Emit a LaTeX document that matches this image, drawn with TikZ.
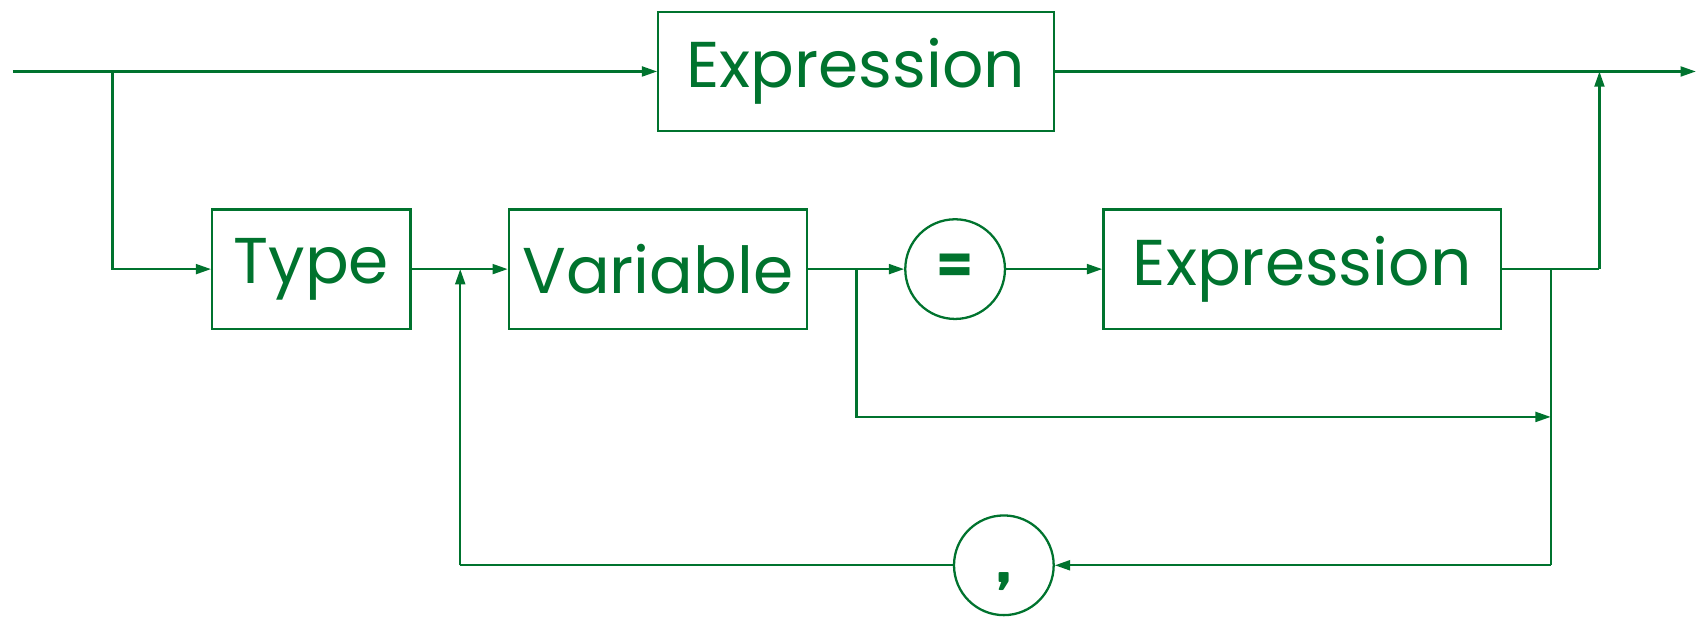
\documentclass[tikz,border=0pt]{standalone}
\usepackage{fontspec}
\setmainfont{Poppins}
\usetikzlibrary{arrows.meta}
\definecolor{syngreen}{RGB}{0,115,46}
\tikzset{
  nonterm/.style={draw, rectangle, inner sep=0pt, minimum height=1.1cm,
    font=\fontsize{17}{20}\selectfont},
  term/.style={draw, circle, inner sep=0pt, minimum size=0.92cm},
  >={Triangle[length=4pt,width=2.6pt]},
}
\begin{document}
\begin{tikzpicture}[x=0.01cm, y=-0.01cm, syngreen, line width=0.6pt]
\useasboundingbox (0,0) rectangle (1568,569);
% boxes and terminals
\node[nonterm, minimum width=3.65cm] (expr) at (790.5,66) {Expression};
\node[nonterm, minimum width=1.83cm] (type) at (287.5,248.5) {Type};
\node[nonterm, minimum width=2.75cm] (var) at (607.5,248.5) {Variable};
\node[term, text height=0.26cm, text depth=0cm,
  font=\fontsize{14}{17}\selectfont\bfseries] (eq) at (882,248.5) {=};
\node[nonterm, minimum width=3.67cm] (expr2) at (1202.5,248.5) {Expression};
\node[term, text height=0.4cm, text depth=0.09cm,
  font=\fontsize{20}{24}\selectfont\sffamily\bfseries] (comma) at (927,522) {,};
% corners and branch points
\coordinate (in) at (12,66);
\coordinate (split) at (104,66);
\coordinate (merge) at (1477,66);
\coordinate (out) at (1566,66);
\coordinate (back) at (425,248.5);
\coordinate (skip) at (791,248.5);
\coordinate (done) at (1432,248.5);
\coordinate (rcorner) at (1477,248.5);
\coordinate (skipend) at (1432,385);
\coordinate (lcorner) at (1432,522);
\coordinate (bcorner) at (425,522);
% top path
\draw (in) -- (split);
\draw[->] (split) -- (expr);
\draw (expr) -- (merge);
\draw[->] (merge) -- (out);
% declaration path
\draw[->] (split) |- (type);
\draw[->] (type) -- (var);
\draw (var) -- (skip);
\draw[->] (skip) -- (eq);
\draw[->] (eq) -- (expr2);
\draw (expr2) -- (done) -- (rcorner);
\draw[->] (rcorner) -- (merge);
\draw[->] (skip) |- (skipend);
% repeat with comma
\draw (done) -- (lcorner);
\draw[->] (lcorner) -- (comma);
\draw (comma) -- (bcorner);
\draw[->] (bcorner) -- (back);
\end{tikzpicture}
\end{document}
